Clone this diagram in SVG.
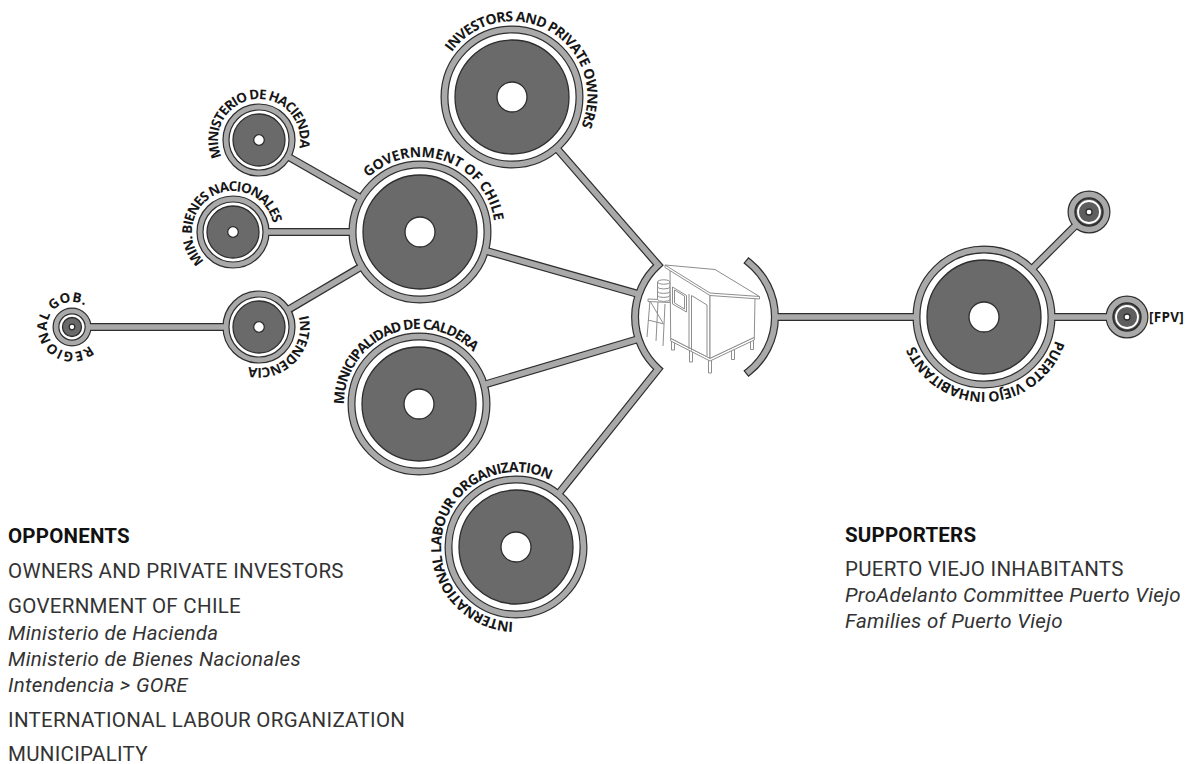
<svg xmlns="http://www.w3.org/2000/svg" width="1191" height="764" viewBox="0 0 1191 764">
<style>
.rk{fill:#fff;stroke:#2e2e2e;stroke-width:8}
.rg{fill:none;stroke:#a9a9a9;stroke-width:5.6}
.rk-m{stroke-width:7.2}
.rg-m{stroke-width:4.8}
.rk-s{stroke-width:7}
.rg-s{stroke-width:4.6}
.disc{fill:#6a6a6a;stroke:#2e2e2e;stroke-width:1.3}
.disc-s{fill:#5e5e5e;stroke:#2e2e2e;stroke-width:1.2}
.hole{fill:#fff;stroke:#2e2e2e;stroke-width:1.3}
.wring{fill:none;stroke:#fff;stroke-width:1.8}
.ck{fill:none;stroke:#2e2e2e;stroke-width:8;stroke-linejoin:miter}
.cg{fill:none;stroke:#a9a9a9;stroke-width:5.6;stroke-linejoin:miter}
.cap{stroke-linecap:square}
.lbl{font-family:"Open Sans","DejaVu Sans",sans-serif;font-weight:700;font-size:14px;fill:#161616}
.lbl-m{font-size:13.5px}
.hut{fill:#fff;stroke:#8e8e8e;stroke-width:1;stroke-linejoin:round}
.hut .open{fill:none}
.leg{font-family:Roboto,"Liberation Sans",sans-serif;font-size:20.5px;fill:#333;letter-spacing:0.3px}
.leg-h{font-weight:700;fill:#111;letter-spacing:0.2px}
.leg-i{font-style:italic}
.tag{font-family:"Open Sans","DejaVu Sans",sans-serif;font-weight:700;font-size:13.5px;fill:#161616}
</style>
<defs>
  <!-- baselines for the curved labels, all running clockwise -->
  <path id="tp-gov" d="M366.1,179.9 A75,75 0 0 1 494.6,224.2"/>
  <path id="tp-inv" d="M445.2,63 A75,75 0 1 1 575.6,136.7"/>
  <path id="tp-mun" d="M344.9,415.7 A75,75 0 0 1 479.7,359.9"/>
  <path id="tp-ilo" d="M518.6,622 A75,75 0 1 1 554.1,482.4"/>
  <path id="tp-pv" d="M1056.4,336.4 A75,75 0 0 1 913.5,342.7"/>
  <path id="tp-hac" d="M224.2,161.7 A41,41 0 1 1 298,152.7"/>
  <path id="tp-bie" d="M207.2,263.9 A41,41 0 1 1 273.6,226.3"/>
  <path id="tp-int" d="M298.4,315.7 A41,41 0 0 1 248.4,366.6"/>
  <path id="tp-reg" d="M91.2,343.1 A25,25 0 1 1 87,307"/>
</defs>

<rect width="1191" height="764" fill="#fff"/>

<!-- large actors -->
<g id="node-investors">
  <circle class="rk" cx="512" cy="97" r="67.5"/>
  <circle class="rg" cx="512" cy="97" r="67.5"/>
  <circle class="disc" cx="512" cy="97" r="57"/>
  <circle class="hole" cx="512" cy="97" r="15"/>
  <text class="lbl" letter-spacing="-0.7"><textPath href="#tp-inv" startOffset="50%" text-anchor="middle">INVESTORS AND PRIVATE OWNERS</textPath></text>
</g>
<g id="node-government">
  <circle class="rk" cx="420" cy="232" r="67.5"/>
  <circle class="rg" cx="420" cy="232" r="67.5"/>
  <circle class="disc" cx="420" cy="232" r="57"/>
  <circle class="hole" cx="420" cy="232" r="15"/>
  <text class="lbl" letter-spacing="-0.1"><textPath href="#tp-gov" startOffset="50%" text-anchor="middle">GOVERNMENT OF CHILE</textPath></text>
</g>
<g id="node-municipalidad">
  <circle class="rk" cx="419" cy="404" r="67.5"/>
  <circle class="rg" cx="419" cy="404" r="67.5"/>
  <circle class="disc" cx="419" cy="404" r="57"/>
  <circle class="hole" cx="419" cy="404" r="15"/>
  <text class="lbl" letter-spacing="-1.1"><textPath href="#tp-mun" startOffset="50%" text-anchor="middle">MUNICIPALIDAD DE CALDERA</textPath></text>
</g>
<g id="node-ilo">
  <circle class="rk" cx="516" cy="547" r="67.5"/>
  <circle class="rg" cx="516" cy="547" r="67.5"/>
  <circle class="disc" cx="516" cy="547" r="57"/>
  <circle class="hole" cx="516" cy="547" r="15"/>
  <text class="lbl" letter-spacing="-0.7"><textPath href="#tp-ilo" startOffset="50%" text-anchor="middle">INTERNATIONAL LABOUR ORGANIZATION</textPath></text>
</g>
<g id="node-puerto-viejo">
  <circle class="rk" cx="984" cy="317" r="67.5"/>
  <circle class="rg" cx="984" cy="317" r="67.5"/>
  <circle class="disc" cx="984" cy="317" r="57"/>
  <circle class="hole" cx="984" cy="317" r="15"/>
  <text class="lbl" letter-spacing="-0.6"><textPath href="#tp-pv" startOffset="50%" text-anchor="middle">PUERTO VIEJO INHABITANTS</textPath></text>
</g>

<!-- ministries and regional bodies -->
<g id="node-hacienda">
  <circle class="rk rk-m" cx="259" cy="140" r="33"/>
  <circle class="rg rg-m" cx="259" cy="140" r="33"/>
  <circle class="disc" cx="259" cy="140" r="26"/>
  <circle class="hole" cx="259" cy="140" r="5.3"/>
  <text class="lbl lbl-m" letter-spacing="-1"><textPath href="#tp-hac" startOffset="50%" text-anchor="middle">MINISTERIO DE HACIENDA</textPath></text>
</g>
<g id="node-bienes">
  <circle class="rk rk-m" cx="233" cy="232" r="33"/>
  <circle class="rg rg-m" cx="233" cy="232" r="33"/>
  <circle class="disc" cx="233" cy="232" r="26"/>
  <circle class="hole" cx="233" cy="232" r="5.3"/>
  <text class="lbl lbl-m" letter-spacing="-1"><textPath href="#tp-bie" startOffset="50%" text-anchor="middle">MIN. BIENES NACIONALES</textPath></text>
</g>
<g id="node-intendencia">
  <circle class="rk rk-m" cx="259" cy="327" r="33"/>
  <circle class="rg rg-m" cx="259" cy="327" r="33"/>
  <circle class="disc" cx="259" cy="327" r="26"/>
  <circle class="hole" cx="259" cy="327" r="5.3"/>
  <text class="lbl lbl-m" letter-spacing="-0.8"><textPath href="#tp-int" startOffset="50%" text-anchor="middle">INTENDENCIA</textPath></text>
</g>
<g id="node-regional">
  <circle class="rk rk-s" cx="72" cy="327" r="16"/>
  <circle class="rg rg-s" cx="72" cy="327" r="16"/>
  <circle class="disc" cx="72" cy="327" r="9.5"/>
  <circle class="hole" cx="72" cy="327" r="2.8"/>
  <text class="lbl lbl-m" letter-spacing="0.3"><textPath href="#tp-reg" startOffset="50%" text-anchor="middle">REGIONAL GOB.</textPath></text>
</g>

<!-- supporter sub-groups -->
<g id="node-committee">
  <circle class="rk" cx="1089" cy="212" r="17.5"/>
  <circle class="rg" cx="1089" cy="212" r="17.5"/>
  <circle class="disc-s" cx="1089" cy="212" r="13.5"/>
  <circle class="wring" cx="1089" cy="212" r="11"/>
  <circle class="hole" cx="1089" cy="212" r="3" stroke-width="0.8"/>
</g>
<g id="node-fpv">
  <circle class="rk" cx="1127" cy="317" r="17.5"/>
  <circle class="rg" cx="1127" cy="317" r="17.5"/>
  <circle class="disc-s" cx="1127" cy="317" r="13.5"/>
  <circle class="wring" cx="1127" cy="317" r="11"/>
  <circle class="hole" cx="1127" cy="317" r="3" stroke-width="0.8"/>
  <text class="tag" x="1149" y="321.5" letter-spacing="0.3">[FPV]</text>
</g>

<!-- central site: house on stilts with water tank -->
<g id="node-site">
  <g class="hut">
    <path class="open" d="M647,337 L650,300 M663,346 L665,304 M656,341 L658,302 M648,320 L664,324 M650,301 L663,323"/>
    <path d="M648,299 L670,300 L670,302.5 L648,301.5 Z"/>
    <path d="M657.5,282 L657.5,299.5 A6.3,2.2 0 0 0 670,299.5 L670,282 Z"/>
    <ellipse cx="663.75" cy="282" rx="6.25" ry="2.2"/>
    <path class="open" d="M657.5,287 A6.3,2.2 0 0 0 670,287 M657.5,291.5 A6.3,2.2 0 0 0 670,291.5 M657.5,295.5 A6.3,2.2 0 0 0 670,295.5"/>
    <rect x="671.5" y="340" width="3" height="10"/>
    <rect x="689.5" y="349.5" width="3" height="12.5"/>
    <rect x="708.5" y="359" width="3" height="14"/>
    <rect x="731.5" y="349.5" width="3" height="10"/>
    <rect x="750.5" y="339.5" width="3" height="10"/>
    <path d="M670.7,338.3 L670.7,341 L710,361 L754.3,340 L754.3,337.3 L710,358.3 Z"/>
    <polygon points="670,268.5 710,293 710,358.3 670.7,338.3"/>
    <polygon points="710,293 755,297.5 754.3,337.3 710,358.3"/>
    <polygon points="672.5,287 686.5,295.5 686.5,312 672.5,304"/>
    <polygon points="674.5,290 684.5,296 684.5,309 674.5,303"/>
    <path class="open" d="M689,294 L689,349 M691.5,295.5 L691.5,350.5 M691.5,295.5 L707,305 L707,356"/>
    <polygon points="665,265 715,269.5 759.5,296.5 759.5,299 710,295.5 665,267.5"/>
    <path class="open" d="M665,265 L710,293 L759.5,296.5"/>
  </g>
</g>

<!-- connectors: dark outline pass, then grey fill pass so junctions merge -->
<g id="connectors">
  <g class="ck">
    <path d="M558.3,150.2 L658.2,265 A70,70 0 0 0 658.2,369 L560,491.9"/>
    <path d="M487.8,251.3 L638.8,294.2"/>
    <path d="M486.6,384 L638.5,339"/>
    <path d="M289.8,157.6 L358.8,197"/>
    <path d="M268.5,232 L349.5,232"/>
    <path d="M289.6,309 L359.3,267.8"/>
    <path d="M90.5,327 L223.5,327"/>
    <path class="cap" d="M749,262.6 A70,70 0 0 1 749,371.4"/>
    <path d="M775,317 L913.5,317"/>
    <path d="M1033.9,267.1 L1074.5,226.5"/>
    <path d="M1054.5,317 L1106.5,317"/>
  </g>
  <g class="cg">
    <path d="M556.3,147.9 L658.2,265 A70,70 0 0 0 658.2,369 L558.1,494.3"/>
    <path d="M484.9,250.5 L638.8,294.2"/>
    <path d="M483.7,384.8 L638.5,339"/>
    <path d="M287.7,156.4 L361.4,198.5"/>
    <path d="M266,232 L352.5,232"/>
    <path d="M287.4,310.2 L361.9,266.3"/>
    <path d="M88,327 L226,327"/>
    <path class="cap" d="M749,262.6 A70,70 0 0 1 749,371.4"/>
    <path d="M775,317 L916.5,317"/>
    <path d="M1031.7,269.3 L1076.6,224.4"/>
    <path d="M1051.5,317 L1109.5,317"/>
  </g>
</g>

<!-- legends -->
<g id="legend-opponents">
  <text class="leg leg-h" x="8" y="543">OPPONENTS</text>
  <text class="leg" x="8" y="578">OWNERS AND PRIVATE INVESTORS</text>
  <text class="leg" x="8" y="613">GOVERNMENT OF CHILE</text>
  <text class="leg leg-i" x="8" y="640">Ministerio de Hacienda</text>
  <text class="leg leg-i" x="8" y="666">Ministerio de Bienes Nacionales</text>
  <text class="leg leg-i" x="8" y="692">Intendencia &gt; GORE</text>
  <text class="leg" x="8" y="727">INTERNATIONAL LABOUR ORGANIZATION</text>
  <text class="leg" x="8" y="761">MUNICIPALITY</text>
</g>
<g id="legend-supporters">
  <text class="leg leg-h" x="845" y="542">SUPPORTERS</text>
  <text class="leg" x="845" y="576">PUERTO VIEJO INHABITANTS</text>
  <text class="leg leg-i" x="845" y="602">ProAdelanto Committee Puerto Viejo</text>
  <text class="leg leg-i" x="845" y="628">Families of Puerto Viejo</text>
</g>
</svg>
